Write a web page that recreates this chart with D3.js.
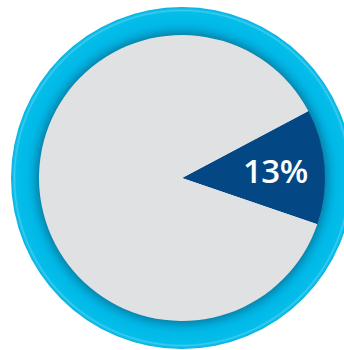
<!DOCTYPE html>
<html><head><meta charset="utf-8">
<script src="https://cdn.jsdelivr.net/npm/d3@7"></script>
<style>html,body{margin:0;padding:0;background:#fff;overflow:hidden}</style>
</head><body>
<svg id="chart" width="344" height="350"></svg>
<script>
const categories = ["Share", "Rest"];
const values = [13, 87];
const labels = ["13%", ""];

const svg = d3.select("#chart");
const cx = 182, cy = 178;
const rInner = 143, rOuter = 171;

const defs = svg.append("defs");
const grad = defs.append("radialGradient")
  .attr("id", "ringGrad")
  .attr("gradientUnits", "userSpaceOnUse")
  .attr("cx", 0).attr("cy", 0).attr("r", rOuter);
const stops = [
  [rInner / rOuter, "#0a86ad"],
  [(rInner + 3) / rOuter, "#0398c4"],
  [(rInner + 7) / rOuter, "#01acda"],
  [(rInner + 12) / rOuter, "#00b9e8"],
  [(rOuter - 5) / rOuter, "#05bde9"],
  [(rOuter - 3.5) / rOuter, "#3ccbef"],
  [(rOuter - 2) / rOuter, "#12bde9"],
  [1, "#00b3e2"]
];
stops.forEach(([o, c]) => grad.append("stop").attr("offset", o).attr("stop-color", c));

const g = svg.append("g").attr("transform", `translate(${cx},${cy})`);

g.append("path")
  .attr("d", d3.arc().innerRadius(rInner - 1).outerRadius(rOuter).startAngle(0).endAngle(2 * Math.PI)())
  .attr("fill", "url(#ringGrad)");

const start = 62.1 * Math.PI / 180;
const pie = d3.pie().sort(null).startAngle(start).endAngle(start + 2 * Math.PI);
const arc = d3.arc().innerRadius(0).outerRadius(rInner);
const colors = d3.scaleOrdinal().domain(categories).range(["#034785", "#e0e1e3"]);

const arcs = pie(values);
g.selectAll("path.slice").data(arcs).join("path")
  .attr("class", "slice")
  .attr("d", arc)
  .attr("fill", (d, i) => colors(categories[i]));

const lab = d3.arc().innerRadius(rInner * 0.655).outerRadius(rInner * 0.655);
g.selectAll("text.lbl").data(arcs).join("text")
  .attr("class", "lbl")
  .attr("x", d => lab.centroid(d)[0])
  .attr("y", d => lab.centroid(d)[1])
  .attr("dy", "0.36em")
  .attr("text-anchor", "middle")
  .attr("fill", "#fff")
  .style("font-family", "'Open Sans', sans-serif")
  .style("font-size", "33px")
  .style("font-weight", "600")
  .style("letter-spacing", "-0.5px")
  .text((d, i) => labels[i]);
</script>
</body></html>
